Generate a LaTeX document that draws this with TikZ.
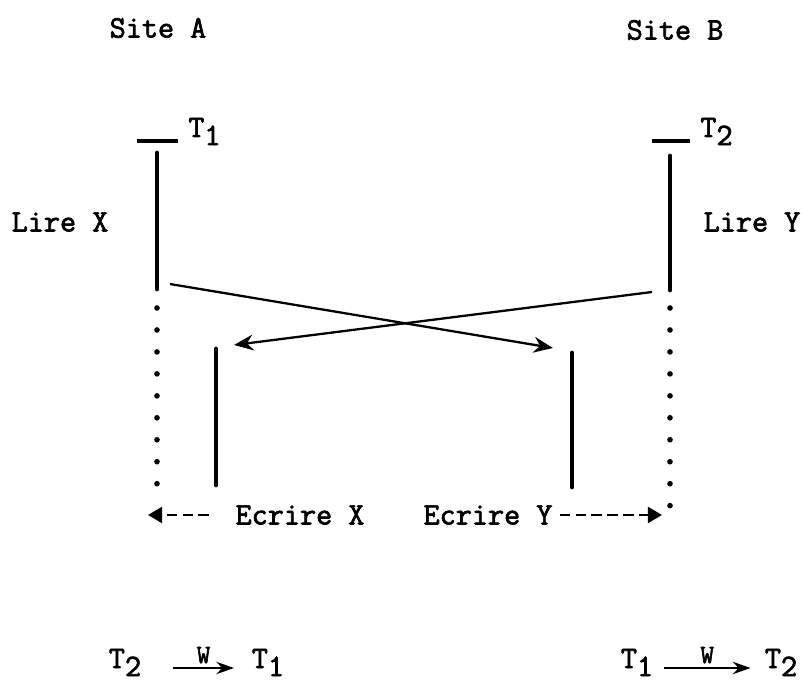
\documentclass[tikz,border=0pt]{standalone}
\usepackage{fontspec}
\setmonofont{Latin Modern Mono}[AutoFakeBold=2.2]
\usetikzlibrary{arrows.meta, positioning}

\newcommand\ix[1]{\raisebox{-0.6ex}{#1}}

\begin{document}
\begin{tikzpicture}[x=0.02cm, y=-0.02cm, >=Stealth,
  font=\fontsize{17.8}{20}\selectfont\ttfamily\bfseries,
  txt/.style={inner sep=0pt},
  life/.style={line width=2.8pt, line cap=round},
  tick/.style={line width=2.2pt},
  dotline/.style={line width=3.2pt, line cap=round, dash pattern=on 0pt off 12.5pt},
  msg/.style={-{Stealth[length=11pt,width=9pt]}, line width=1.3pt},
  dasharr/.style={-{Triangle[length=8pt,width=9pt]}, line width=1.5pt,
                  dash pattern=on 6pt off 3pt},
  rel/.style={-{Stealth[length=10pt,width=7pt]}, line width=1.4pt},
  wl/.style={font=\fontsize{15}{17}\selectfont\ttfamily\bfseries, inner sep=2pt, above}]
\useasboundingbox (0,0) rectangle (802,682);
% sites
\node[txt] (siteA) at (158,28) {Site A};
\node[txt] (siteB) at (675,30) {Site B};
% site A
\node[txt, anchor=base west] (t1) at (188,137) {T\ix{1}};
\draw[tick] (137,141) -- (178,141);
\coordinate (a0) at (157,153);
\coordinate (a1) at (157,289);
\coordinate (a2) at (157,308);
\coordinate (a3) at (157,490);
\draw[life] (a0) -- (a1);
\draw[dotline] (a2) -- (a3);
\node[txt] (lireX) at (60,222) {Lire X};
\coordinate (ai0) at (216,349);
\coordinate (ai1) at (216,485);
\draw[life] (ai0) -- (ai1);
% site B
\node[txt, anchor=base west] (t2) at (700,137) {T\ix{2}};
\draw[tick] (652,141) -- (690,141);
\coordinate (b0) at (670,156);
\coordinate (b1) at (670,290);
\coordinate (b2) at (670,308);
\coordinate (b3) at (670,512);
\draw[life] (b0) -- (b1);
\draw[dotline] (b2) -- (b3);
\node[txt] (lireY) at (752,222) {Lire Y};
\coordinate (bi0) at (572,353);
\coordinate (bi1) at (572,487);
\draw[life] (bi0) -- (bi1);
% crossing messages
\coordinate (readX) at (170,284);
\coordinate (recvY) at (553,348);
\coordinate (readY) at (652,292);
\coordinate (recvX) at (234,345);
\draw[msg] (readX) -- (recvY);
\draw[msg] (readY) -- (recvX);
% writes
\node[txt] (ecrX) at (300,515) {Ecrire X};
\node[txt] (ecrY) at (488,515) {Ecrire Y};
\coordinate (endA) at (148,515);
\coordinate (endB) at (662,515);
\draw[dasharr] ([xshift=-15pt]ecrX.west) -- (endA);
\draw[dasharr] ([xshift=4pt]ecrY.east) -- (endB);
% precedences
\node[txt, anchor=base] (gT2) at (125,668) {T\ix{2}};
\node[txt, anchor=base] (gT1) at (268,668) {T\ix{1}};
\draw[rel] ([xshift=18pt]gT2.base east) -- ([xshift=-10pt]gT1.base west) node[wl, midway] {W};
\node[txt, anchor=base] (hT1) at (637,668) {T\ix{1}};
\node[txt, anchor=base] (hT2) at (781,668) {T\ix{2}};
\draw[rel] ([xshift=6pt]hT1.base east) -- ([xshift=-8pt]hT2.base west) node[wl, midway] {W};
\end{tikzpicture}
\end{document}
